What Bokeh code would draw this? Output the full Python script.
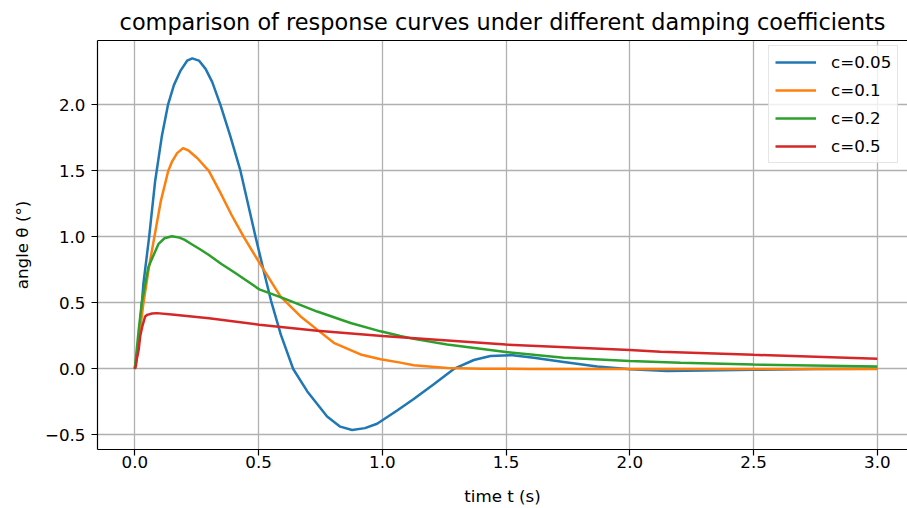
from bokeh.plotting import figure
from bokeh.models import (Range1d, FixedTicker, LinearAxis, Legend, LegendItem,
                          CustomJSTickFormatter, Title, Grid)
from bokeh.embed import file_html
from bokeh.resources import INLINE

# ---------------- data ----------------
t_c005 = [0.0, 0.01, 0.02, 0.035, 0.058, 0.082, 0.109, 0.134, 0.158, 0.185, 0.212,
          0.232, 0.259, 0.286, 0.313, 0.346, 0.385, 0.427, 0.488, 0.52, 0.55, 0.59,
          0.64, 0.697, 0.777, 0.83, 0.878, 0.93, 0.979, 1.06, 1.127, 1.208, 1.289,
          1.37, 1.437, 1.518, 1.612, 1.733, 1.868, 2.003, 2.15, 2.3, 2.5, 2.75, 3.0]
v_c005 = [0.0, 0.12, 0.3, 0.65, 1.0, 1.42, 1.76, 2.0, 2.15, 2.26, 2.336,
          2.353, 2.336, 2.273, 2.173, 2.0, 1.77, 1.5, 1.0, 0.75, 0.52, 0.26,
          0.0, -0.17, -0.36, -0.437, -0.462, -0.448, -0.415, -0.315, -0.227, -0.115, 0.0,
          0.068, 0.098, 0.105, 0.085, 0.053, 0.018, -0.002, -0.015, -0.012, -0.006, 0.0, 0.002]

t_c01 = [0.0, 0.01, 0.02, 0.035, 0.058, 0.082, 0.105, 0.135, 0.151, 0.171, 0.195,
         0.218, 0.252, 0.299, 0.35, 0.39, 0.44, 0.508, 0.589, 0.67, 0.737, 0.804,
         0.912, 0.993, 1.073, 1.127, 1.262, 1.4, 1.6, 2.0, 2.5, 3.0]
v_c01 = [0.0, 0.12, 0.28, 0.5, 0.78, 1.03, 1.27, 1.5, 1.573, 1.635, 1.673,
         1.653, 1.598, 1.5, 1.32, 1.17, 1.0, 0.79, 0.548, 0.398, 0.298, 0.198,
         0.11, 0.073, 0.048, 0.028, 0.008, 0.002, 0.0, 0.0, 0.0, 0.0]

t_c02 = [0.0, 0.008, 0.016, 0.028, 0.055, 0.096, 0.12, 0.15, 0.18, 0.2, 0.23,
         0.265, 0.298, 0.35, 0.4, 0.503, 0.602, 0.737, 0.872, 0.993, 1.073, 1.127,
         1.262, 1.499, 1.733, 2.0, 2.205, 2.5, 3.0]
v_c02 = [0.0, 0.15, 0.3, 0.498, 0.773, 0.948, 0.99, 1.005, 0.995, 0.98, 0.945,
         0.905, 0.865, 0.795, 0.735, 0.603, 0.535, 0.435, 0.348, 0.285, 0.25, 0.228,
         0.185, 0.128, 0.085, 0.06, 0.048, 0.033, 0.018]

t_c05 = [0.0, 0.005, 0.008, 0.016, 0.022, 0.03, 0.042, 0.05, 0.07, 0.089, 0.15,
         0.3, 0.503, 0.737, 1.0, 1.499, 2.0, 2.124, 2.5, 3.0]
v_c05 = [0.0, 0.03, 0.073, 0.15, 0.25, 0.32, 0.398, 0.41, 0.42, 0.423, 0.412,
         0.385, 0.335, 0.29, 0.25, 0.185, 0.143, 0.13, 0.107, 0.078]

series_t = [t_c005, t_c01, t_c02, t_c05]
series_v = [v_c005, v_c01, v_c02, v_c05]
labels = ["c=0.05", "c=0.1", "c=0.2", "c=0.5"]
colors = ["#1f77b4", "#ff7f0e", "#2ca02c", "#d62728"]

x_ticks = [0.0, 0.5, 1.0, 1.5, 2.0, 2.5, 3.0]
y_ticks = [-0.5, 0.0, 0.5, 1.0, 1.5, 2.0]

title_text = "comparison of response curves under different damping coefficients"
x_label = "time t (s)"
y_label = "angle \u03b8 (\u00b0)"

FONT = "DejaVu Sans"
TICK_SIZE = "16.7px"

# ---------------- figure ----------------
p = figure(width=907, height=508, output_backend="svg", toolbar_location=None,
           x_range=Range1d(-0.1507, 3.122), y_range=Range1d(-0.61, 2.488),
           min_border_left=97, min_border_right=0, min_border_top=38,
           min_border_bottom=57, x_axis_type=None, y_axis_type=None)
p.outline_line_color = None
p.background_fill_color = "white"
p.border_fill_color = "white"

fmt = CustomJSTickFormatter(code="return tick.toFixed(1).replace('-', '\\u2212');")

def style_axis(ax, label):
    ax.axis_label = label
    ax.axis_label_text_font = FONT
    ax.axis_label_text_font_size = TICK_SIZE
    ax.axis_label_text_font_style = "normal"
    ax.axis_label_text_color = "black"
    ax.major_label_text_font = FONT
    ax.major_label_text_font_size = TICK_SIZE
    ax.major_label_text_color = "black"
    ax.axis_line_color = "black"
    ax.axis_line_width = 1.2
    ax.major_tick_line_color = "black"
    ax.major_tick_line_width = 1.2
    ax.major_tick_out = 6
    ax.major_tick_in = 0
    ax.minor_tick_line_color = None
    ax.formatter = fmt

xaxis = LinearAxis(ticker=FixedTicker(ticks=x_ticks))
style_axis(xaxis, x_label)
xaxis.major_label_standoff = 0
xaxis.axis_label_standoff = 15
p.add_layout(xaxis, "below")

yaxis = LinearAxis(ticker=FixedTicker(ticks=y_ticks))
style_axis(yaxis, y_label)
yaxis.major_label_standoff = 6
yaxis.axis_label_standoff = 10
p.add_layout(yaxis, "left")

top = LinearAxis(ticker=FixedTicker(ticks=[]))
top.axis_line_color = "black"
top.axis_line_width = 1.2
top.major_tick_out = 0
top.major_tick_in = 0
top.minor_tick_out = 0
top.minor_tick_in = 0
top.major_label_text_font_size = "0px"
p.add_layout(top, "above")

p.title = Title(text=title_text, align="center", text_font=FONT,
                text_font_size="22.4px", text_font_style="normal",
                text_color="black", standoff=12)

p.add_layout(Grid(dimension=0, ticker=FixedTicker(ticks=x_ticks),
                  grid_line_color="#b0b0b0", grid_line_width=1.3))
p.add_layout(Grid(dimension=1, ticker=FixedTicker(ticks=y_ticks),
                  grid_line_color="#b0b0b0", grid_line_width=1.3))

items = []
for t, v, lab, col in zip(series_t, series_v, labels, colors):
    r = p.line(t, v, line_color=col, line_width=2.5)
    items.append(LegendItem(label=lab, renderers=[r]))

legend = Legend(items=items, location=(671, 286), margin=0, padding=6,
                spacing=8, glyph_width=41, glyph_height=20, label_height=20,
                label_standoff=15, label_text_font=FONT,
                label_text_font_size=TICK_SIZE, label_text_color="black",
                border_line_color="#cccccc", border_line_width=1,
                background_fill_color="white", background_fill_alpha=0.8)
p.add_layout(legend, "center")

open("out.html", "w").write(file_html(p, INLINE))
